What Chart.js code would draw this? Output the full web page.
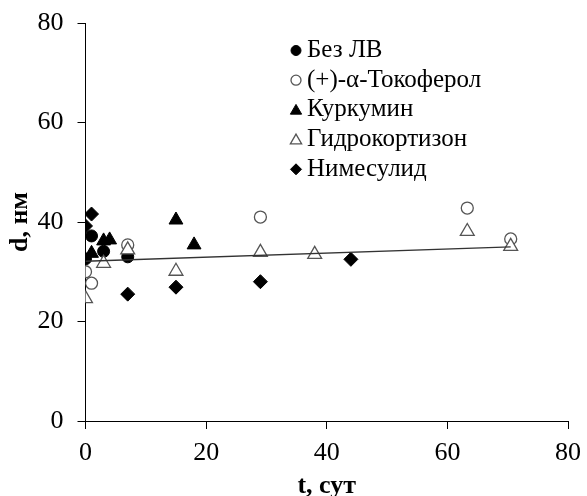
<!DOCTYPE html>
<html>
<head>
<meta charset="utf-8">
<script src="https://cdn.jsdelivr.net/npm/chart.js@4/dist/chart.umd.min.js"></script>
<style>
  html, body { margin: 0; padding: 0; background: #fff; }
  #wrap { width: 587px; height: 496px; }
</style>
</head>
<body>
<div id="wrap"><canvas id="chart" width="587" height="496"></canvas></div>
<script>
// Данные: t (сутки) и d (нм)
const seriesNames = ['Без ЛВ', '(+)-α-Токоферол', 'Куркумин', 'Гидрокортизон', 'Нимесулид'];

const tBez = [0, 1, 3, 7];
const dBez = [32.6, 37.2, 34.1, 33.0];

const tToco = [0, 1, 7, 29, 63.3, 70.5];
const dToco = [30.0, 27.7, 35.4, 41.0, 42.8, 36.6];

const tCurc = [1, 3, 4, 15, 18];
const dCurc = [33.7, 36.2, 36.4, 40.4, 35.4];

const tHydro = [0, 3, 7, 15, 29, 38, 63.3, 70.5];
const dHydro = [24.6, 31.7, 34.4, 30.1, 33.9, 33.5, 38.1, 35.1];

const tNime = [0, 1, 7, 15, 29, 44];
const dNime = [39.2, 41.6, 25.5, 26.9, 28.0, 32.5];

// линия тренда (концы)
const tTrend = [0, 70.5];
const dTrend = [32.1, 35.0];

const xTicks = [0, 20, 40, 60, 80];
const yTicks = [0, 20, 40, 60, 80];

const serif = "'Times New Roman', 'Liberation Serif', serif";
const GRAY = '#555555';

function pts(xs, ys) {
  return xs.map((x, i) => ({ x: x, y: ys[i] }));
}

// стили маркеров для серий и легенды
const markerStyles = [
  { pointStyle: 'circle',   radius: 6, legendRadius: 5, fill: '#000', stroke: '#000', width: 1 },
  { pointStyle: 'circle',   radius: 6, legendRadius: 5, fill: '#fff', stroke: GRAY,   width: 1.3 },
  { pointStyle: 'triangle', radius: 8, legendRadius: 6.5, fill: '#000', stroke: '#000', width: 1 },
  { pointStyle: 'triangle', radius: 8, legendRadius: 6.5, fill: '#fff', stroke: GRAY,   width: 1.3 },
  { pointStyle: 'rectRot',  radius: 7, legendRadius: 5.5, fill: '#000', stroke: '#000', width: 1 }
];

const seriesData = [
  pts(tBez, dBez),
  pts(tToco, dToco),
  pts(tCurc, dCurc),
  pts(tHydro, dHydro),
  pts(tNime, dNime)
];

const datasets = seriesNames.map((name, i) => ({
  type: 'scatter',
  label: name,
  data: seriesData[i],
  pointStyle: markerStyles[i].pointStyle,
  pointRadius: markerStyles[i].radius,
  pointHoverRadius: markerStyles[i].radius,
  backgroundColor: markerStyles[i].fill,
  borderColor: markerStyles[i].stroke,
  pointBorderWidth: markerStyles[i].width,
  order: 5 - i
}));

datasets.push({
  type: 'line',
  label: 'trend',
  data: pts(tTrend, dTrend),
  borderColor: '#333',
  borderWidth: 1.5,
  pointRadius: 0,
  fill: false,
  order: 0
});

// Легенда внутри области графика
const legendInside = {
  id: 'legendInside',
  afterDraw(chart) {
    const ctx = chart.ctx;
    const x0 = 296, y0 = 50.5, step = 29.7;
    ctx.save();
    ctx.font = '25px ' + serif;
    ctx.textBaseline = 'middle';
    ctx.textAlign = 'left';
    seriesNames.forEach((name, i) => {
      const m = markerStyles[i];
      const y = y0 + i * step;
      ctx.fillStyle = m.fill;
      ctx.strokeStyle = m.stroke;
      ctx.lineWidth = m.width;
      Chart.helpers.drawPoint(ctx, {
        pointStyle: m.pointStyle,
        radius: m.legendRadius,
        rotation: 0,
        borderWidth: m.width
      }, x0, y + (m.pointStyle === 'triangle' ? 1 : 0));
      ctx.fillStyle = '#000';
      ctx.fillText(name, 307, y);
    });
    ctx.restore();
  }
};

new Chart(document.getElementById('chart'), {
  data: { datasets: datasets },
  plugins: [legendInside],
  options: {
    responsive: false,
    animation: false,
    layout: { padding: { left: 0, right: 19, top: 23, bottom: 0 } },
    plugins: {
      legend: { display: false },
      tooltip: { enabled: false }
    },
    scales: {
      x: {
        type: 'linear',
        min: 0,
        max: 80,
        afterBuildTicks: (scale) => { scale.ticks = xTicks.map(v => ({ value: v })); },
        afterFit: (scale) => {
          scale.height = 75;
          scale.paddingLeft = 0;
          scale.paddingRight = 0;
        },
        grid: { drawOnChartArea: false, drawTicks: true, tickLength: 8, color: '#000' },
        border: { color: '#000', width: 1 },
        ticks: { color: '#000', font: { family: serif, size: 26 }, padding: 9, maxRotation: 0 },
        title: {
          display: true,
          text: 't, сут',
          color: '#000',
          font: { family: serif, size: 26, weight: 'bold', lineHeight: 1 },
          padding: { top: 0, bottom: -3 }
        }
      },
      y: {
        type: 'linear',
        min: 0,
        max: 80,
        afterBuildTicks: (scale) => { scale.ticks = yTicks.map(v => ({ value: v })); },
        afterFit: (scale) => {
          scale.width = 85.5;
          scale.paddingTop = 0;
          scale.paddingBottom = 0;
        },
        grid: { drawOnChartArea: false, drawTicks: true, tickLength: 8, color: '#000' },
        border: { color: '#000', width: 1 },
        ticks: { color: '#000', font: { family: serif, size: 26 }, padding: 14 },
        title: {
          display: true,
          text: 'd, нм',
          color: '#000',
          font: { family: serif, size: 26, weight: 'bold', lineHeight: 1 },
          padding: { top: 7, bottom: 0 }
        }
      }
    }
  }
});
</script>
</body>
</html>
